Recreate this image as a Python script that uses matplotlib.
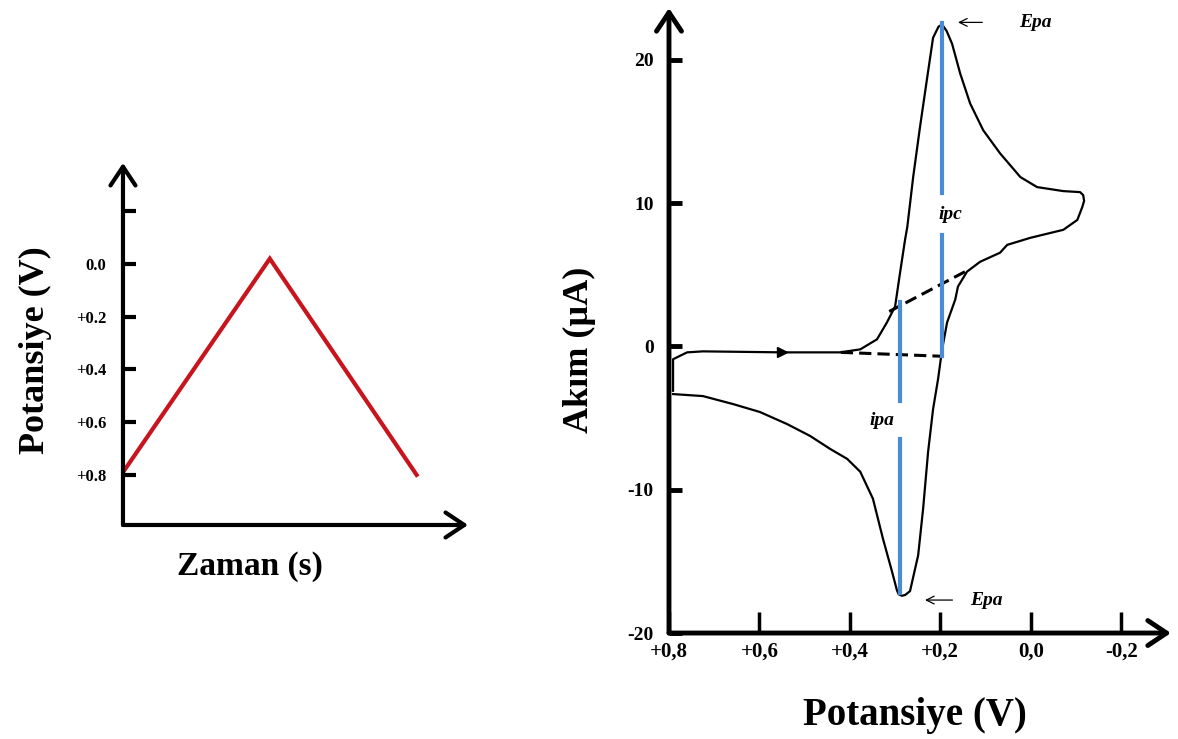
import matplotlib.pyplot as plt
import numpy as np

plt.rcParams['font.family'] = ['Liberation Serif', 'DejaVu Serif']

# left panel: triangular potential sweep
sweep_t = [0, 1, 2]
sweep_e = [0.79, -0.02, 0.80]
left_ticks = [-0.2, 0.0, 0.2, 0.4, 0.6, 0.8]
left_labels = ['', '0.0', '+0.2', '+0.4', '+0.6', '+0.8']

# right panel: cyclic voltammogram, potential (V) and current (uA)
cv_e = [0.791, 0.791, 0.760, 0.725, 0.548, 0.422, 0.377, 0.340, 0.318, 0.300,
        0.289, 0.278, 0.273, 0.260, 0.245, 0.229, 0.216, 0.204, 0.196, 0.186, 0.174, 0.156,
        0.134, 0.105, 0.068, 0.023, -0.014, -0.072, -0.109, -0.116, -0.118, -0.114, -0.103,
        -0.072, 0.001, 0.052, 0.068, 0.112, 0.141, 0.161, 0.167, 0.185, 0.196,
        0.205, 0.216, 0.227, 0.238, 0.249, 0.267, 0.278, 0.285, 0.292, 0.296, 0.307, 0.327,
        0.349, 0.377, 0.406, 0.444, 0.488, 0.539, 0.599, 0.658, 0.725, 0.791]
cv_i = [-3.1, -0.9, -0.42, -0.35, -0.42, -0.42, -0.21, 0.49, 1.67, 2.78,
        5.14, 7.43, 8.33, 11.81, 15.28, 18.75, 21.53, 22.3, 22.45, 22.0, 21.11, 19.03,
        16.94, 15.07, 13.47, 11.81, 11.11, 10.83, 10.76, 10.55, 10.15, 9.72, 8.82,
        8.13, 7.57, 7.08, 6.53, 5.90, 5.21, 4.17, 3.26, 1.67, -0.21,
        -2.29, -4.38, -7.36, -11.32, -14.58, -17.08, -17.35, -17.4, -17.3, -17.01, -15.69, -13.40,
        -10.63, -8.75, -7.85, -7.15, -6.25, -5.42, -4.58, -4.03, -3.47, -3.33]
scan_arrow_e, scan_arrow_i = 0.55, -0.42

# extrapolated baselines
base_up_e = [0.313, 0.141]
base_up_i = [2.43, 5.28]
base_lo_e = [0.42, 0.198]
base_lo_i = [-0.42, -0.69]

# peak current segments (broken around the labels)
ipc_e = 0.196
ipc_segments = [(22.57, 10.69), (7.78, -0.69)]
ipa_e = 0.289
ipa_segments = [(3.06, -3.8), (-6.46, -17.2)]

x_ticks = [0.8, 0.6, 0.4, 0.2, 0.0, -0.2]
x_labels = ['+0,8', '+0,6', '+0,4', '+0,2', '0,0', '-0,2']
y_ticks = [20, 10, 0, -10, -20]
y_labels = ['20', '10', '0', '-10', '-20']

fig = plt.figure(figsize=(11.78, 7.39), dpi=100)


def arrow_axes(ax, lw):
    for s in ax.spines.values():
        s.set_visible(False)
    style = '->,head_length=0.45,head_width=0.3'
    ax.annotate('', xy=(0, 1), xytext=(0, 0), xycoords='axes fraction',
                arrowprops=dict(arrowstyle=style, lw=lw, color='black',
                                mutation_scale=30, shrinkA=0, shrinkB=0))
    ax.annotate('', xy=(1, 0), xytext=(0, 0), xycoords='axes fraction',
                arrowprops=dict(arrowstyle=style, lw=lw, color='black',
                                mutation_scale=30, shrinkA=0, shrinkB=0))


# ---- left: potential waveform
ax1 = fig.add_axes([0.1044, 0.2896, 0.2929, 0.4899])
ax1.plot(sweep_t, sweep_e, color='#c8141c', lw=3, solid_joinstyle='miter')
ax1.set_xlim(0, 2.35)
ax1.set_ylim(0.99, -0.383)
ax1.set_xticks([])
ax1.set_yticks(left_ticks)
ax1.set_yticklabels(left_labels, fontsize=12, fontweight='bold')
ax1.tick_params(axis='y', direction='in', length=9, width=3, pad=12)
arrow_axes(ax1, 3)
fig.text(0.030, 1 - 350 / 739, 'Potansiye (V)', rotation=90, fontsize=26,
         fontweight='bold', ha='center', va='center')
fig.text(250 / 1178, 1 - 566 / 739, 'Zaman (s)', fontsize=24,
         fontweight='bold', ha='center', va='center')

# ---- right: cyclic voltammogram
ax2 = fig.add_axes([0.5679, 0.1434, 0.4261, 0.8457])
ax2.plot(cv_e, cv_i, color='black', lw=1.6)
ax2.plot([scan_arrow_e], [scan_arrow_i], marker='>', color='black', ms=7)
ax2.plot(base_up_e, base_up_i, color='black', lw=2.2, ls=(0, (4, 2)))
ax2.plot(base_lo_e, base_lo_i, color='black', lw=2.2, ls=(0, (4, 2)))
for top, bottom in ipc_segments:
    ax2.plot([ipc_e, ipc_e], [top, bottom], color='#4a8bd6', lw=3)
for top, bottom in ipa_segments:
    ax2.plot([ipa_e, ipa_e], [top, bottom], color='#4a8bd6', lw=3)

lab = dict(fontsize=14, fontstyle='italic', fontweight='bold', ha='center', va='center')
ax2.text(0.178, 9.2, 'ipc', **lab)
ax2.text(0.329, -5.2, 'ipa', **lab)
ax2.text(-0.01, 22.6, 'Epa', **lab)
ax2.text(0.099, -17.7, 'Epa', **lab)
ax2.annotate('', xy=(0.167, 22.6), xytext=(0.101, 22.6),
             arrowprops=dict(arrowstyle='->', lw=0.9, color='black', mutation_scale=14))
ax2.annotate('', xy=(0.240, -17.7), xytext=(0.167, -17.7),
             arrowprops=dict(arrowstyle='->', lw=0.9, color='black', mutation_scale=14))

ax2.set_xlim(0.8, -0.31)
ax2.set_ylim(-20, 23.6)
ax2.set_xticks(x_ticks)
ax2.set_xticklabels(x_labels, fontsize=15, fontweight='bold')
ax2.set_yticks(y_ticks)
ax2.set_yticklabels(y_labels, fontsize=14, fontweight='bold')
ax2.tick_params(axis='x', direction='in', length=15, width=2.5, pad=6)
ax2.tick_params(axis='y', direction='in', length=9, width=3.5, pad=11)
arrow_axes(ax2, 3.5)
fig.text(579 / 1178, 1 - 350 / 739, 'Akım (µA)', rotation=90, fontsize=26,
         fontweight='bold', ha='center', va='center')
fig.text(915 / 1178, 1 - 716 / 739, 'Potansiye (V)', fontsize=28,
         fontweight='bold', ha='center', va='center')

fig.savefig('out.png', dpi=100)
